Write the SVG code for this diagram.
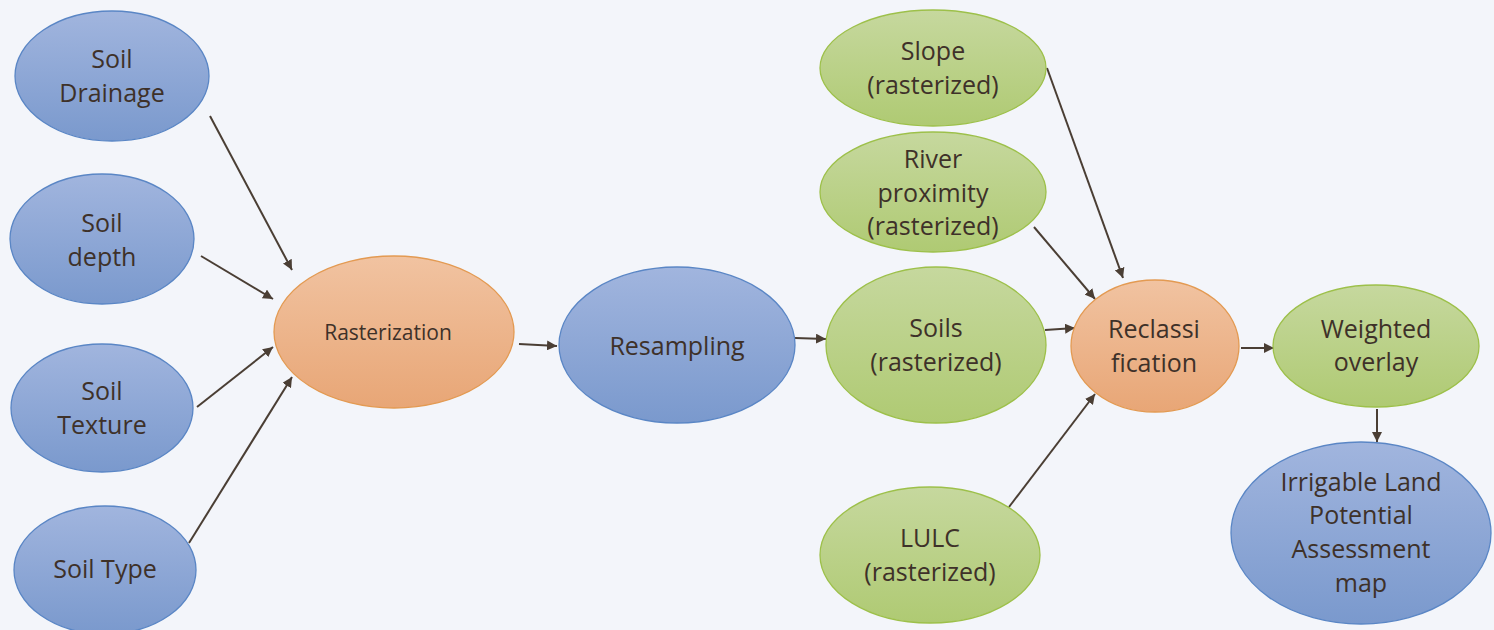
<svg xmlns="http://www.w3.org/2000/svg" width="1494" height="630" viewBox="0 0 1494 630">
<style>
.t{font-family:"Open Sans","Liberation Sans",sans-serif;font-size:25px;fill:#3e3129;text-anchor:middle}
.s{font-size:21px}
.blue{fill:url(#gb);stroke:#5a86c5;stroke-width:1.3}
.orange{fill:url(#go);stroke:#e39a52;stroke-width:1.3}
.green{fill:url(#gg);stroke:#9dc04a;stroke-width:1.3}
.c{stroke:#4a3e34;stroke-width:2;fill:none;marker-end:url(#ah)}
</style>
<defs>
<linearGradient id="gb" x1="0" y1="0" x2="0" y2="1"><stop offset="0" stop-color="#a1b5de"/><stop offset="1" stop-color="#7a99cd"/></linearGradient>
<linearGradient id="go" x1="0" y1="0" x2="0" y2="1"><stop offset="0" stop-color="#f1c3a1"/><stop offset="1" stop-color="#e8a676"/></linearGradient>
<linearGradient id="gg" x1="0" y1="0" x2="0" y2="1"><stop offset="0" stop-color="#c6d89e"/><stop offset="1" stop-color="#afca73"/></linearGradient>
<marker id="ah" viewBox="0 0 10 10" refX="10" refY="5" markerWidth="5" markerHeight="5" orient="auto" markerUnits="strokeWidth"><path d="M0,0L10,5L0,10z" fill="#4a3e34"/></marker>
</defs>
<rect width="1494" height="630" fill="#f3f5fa"/>
<g id="connectors">
<line class="c" x1="210" y1="116" x2="292" y2="270"/>
<line class="c" x1="201" y1="256" x2="273" y2="299"/>
<line class="c" x1="197" y1="407" x2="273" y2="347"/>
<line class="c" x1="189" y1="543" x2="292" y2="377"/>
<line class="c" x1="519" y1="344" x2="557" y2="346"/>
<line class="c" x1="795" y1="338" x2="826" y2="339"/>
<line class="c" x1="1047" y1="68" x2="1123" y2="278"/>
<line class="c" x1="1034" y1="227" x2="1095" y2="299"/>
<line class="c" x1="1045" y1="330" x2="1075" y2="328"/>
<line class="c" x1="1009" y1="507" x2="1095" y2="394"/>
<line class="c" x1="1241" y1="348" x2="1274" y2="348"/>
<line class="c" x1="1377" y1="409" x2="1377" y2="442"/>
</g>
<g id="soil-drainage"><ellipse class="blue" cx="112" cy="76" rx="97" ry="65"/><text class="t" x="112" y="68">Soil</text><text class="t" x="112" y="102">Drainage</text></g>
<g id="soil-depth"><ellipse class="blue" cx="102" cy="239" rx="92" ry="65"/><text class="t" x="102" y="232">Soil</text><text class="t" x="102" y="266">depth</text></g>
<g id="soil-texture"><ellipse class="blue" cx="102" cy="408" rx="91" ry="64"/><text class="t" x="102" y="400">Soil</text><text class="t" x="102" y="434">Texture</text></g>
<g id="soil-type"><ellipse class="blue" cx="105" cy="570" rx="91" ry="64"/><text class="t" x="105" y="578">Soil Type</text></g>
<g id="rasterization"><ellipse class="orange" cx="394" cy="332" rx="120" ry="76"/><text class="t s" x="388" y="340">Rasterization</text></g>
<g id="resampling"><ellipse class="blue" cx="677" cy="345" rx="118" ry="78"/><text class="t" x="677" y="355">Resampling</text></g>
<g id="slope"><ellipse class="green" cx="933" cy="68" rx="113" ry="58"/><text class="t" x="933" y="60">Slope</text><text class="t" x="933" y="94">(rasterized)</text></g>
<g id="river"><ellipse class="green" cx="933" cy="192" rx="113" ry="60"/><text class="t" x="933" y="168">River</text><text class="t" x="933" y="202">proximity</text><text class="t" x="933" y="235">(rasterized)</text></g>
<g id="soils"><ellipse class="green" cx="936" cy="345" rx="110" ry="78"/><text class="t" x="936" y="337">Soils</text><text class="t" x="936" y="371">(rasterized)</text></g>
<g id="lulc"><ellipse class="green" cx="930" cy="555" rx="110" ry="68"/><text class="t" x="930" y="547">LULC</text><text class="t" x="930" y="581">(rasterized)</text></g>
<g id="reclassification"><ellipse class="orange" cx="1155" cy="346" rx="84" ry="66"/><text class="t" x="1154" y="338">Reclassi</text><text class="t" x="1154" y="372">fication</text></g>
<g id="weighted-overlay"><ellipse class="green" cx="1376" cy="346" rx="103" ry="61"/><text class="t" x="1376" y="338">Weighted</text><text class="t" x="1376" y="371">overlay</text></g>
<g id="irrigable"><ellipse class="blue" cx="1361" cy="533" rx="130" ry="91"/><text class="t" x="1361" y="491">Irrigable Land</text><text class="t" x="1361" y="524">Potential</text><text class="t" x="1361" y="558">Assessment</text><text class="t" x="1361" y="592">map</text></g>
</svg>
